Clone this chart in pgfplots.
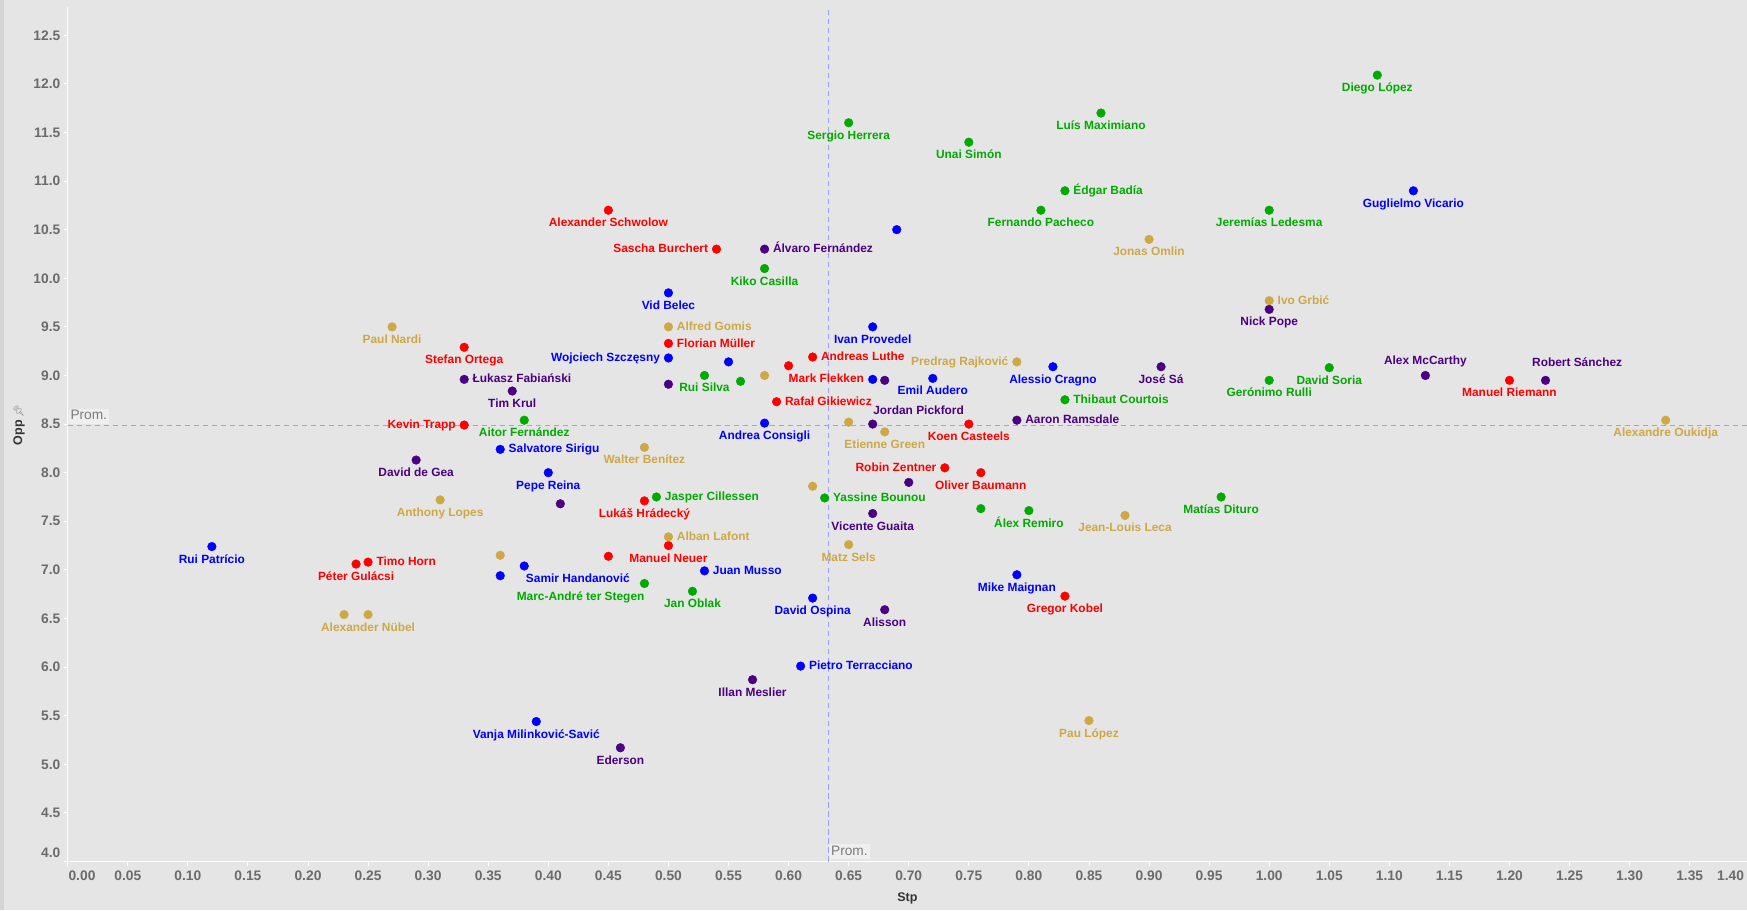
\documentclass[border=0pt]{standalone}
\usepackage{pgfplots}
\pgfplotsset{compat=1.18}
\usepackage{pgfplotstable}
\usepackage{fontspec}
\setmainfont{Liberation Sans}
\newfontfamily\emojifont{Noto Emoji}
\definecolor{bgc}{HTML}{E5E5E5}
\definecolor{stripC}{HTML}{D4D4D4}
\definecolor{gC}{HTML}{00AA00}
\definecolor{rC}{HTML}{FF0000}
\definecolor{bC}{HTML}{0000FF}
\definecolor{pC}{HTML}{4B0082}
\definecolor{yC}{HTML}{CDA844}
\definecolor{tickC}{HTML}{6B6B6B}
\definecolor{titleC}{HTML}{333333}
\definecolor{refC}{HTML}{9E9EFF}
\definecolor{promC}{HTML}{7A7A7A}
\definecolor{promBg}{HTML}{EFEFEF}
\newcommand\lblfont{\fontsize{11.9pt}{13pt}\selectfont\bfseries}
\newcommand\tickfont{\fontsize{13.8pt}{15pt}\selectfont\bfseries}
\newcommand\titlefont{\fontsize{12.5pt}{14pt}\selectfont\bfseries}

% label placement relative to the dot (codes used in the tables)
\newcommand\lpS[1]{\makebox[0pt][c]{\raisebox{-16.5pt}[0pt][0pt]{#1}}}% below
\newcommand\lpE[1]{\makebox[0pt][l]{\hspace{8.5pt}\raisebox{-3.6pt}[0pt][0pt]{#1}}}% right
\newcommand\lpW[1]{\makebox[0pt][r]{\raisebox{-3.6pt}[0pt][0pt]{#1}\hspace{8.5pt}}}% left
\newcommand\lpF[1]{\makebox[0pt][l]{\raisebox{-16.8pt}[0pt][0pt]{#1}}}% below, from dot
\newcommand\lpH[1]{\makebox[0pt][l]{\hspace{1.7pt}\raisebox{-16.2pt}[0pt][0pt]{#1}}}
\newcommand\lpM[1]{\makebox[0pt][r]{\raisebox{-16.6pt}[0pt][0pt]{#1}}}% below, to dot
\newcommand\lpJ[1]{\makebox[0pt][l]{\hspace{0.6pt}\raisebox{9.8pt}[0pt][0pt]{#1}}}% above, from dot
\newcommand\lpA[1]{\makebox[0pt][c]{\raisebox{11.1pt}[0pt][0pt]{#1}}}% above
\newcommand\lpR[1]{\makebox[0pt][c]{\hspace{63.2pt}\raisebox{13.8pt}[0pt][0pt]{#1}}}% above, shifted right
\def\placelabel#1:#2\relax{\csname lp#1\endcsname{#2}}
\newcommand\showlabel{\edef\tmpmeta{\pgfplotspointmeta}\expandafter\placelabel\tmpmeta\relax}

\pgfplotstableread{
x y label
0.65 11.60 {S:Sergio Herrera}
0.86 11.70 {S:Luís Maximiano}
0.75 11.40 {S:Unai Simón}
0.83 10.90 {E:Édgar Badía}
0.81 10.70 {S:Fernando Pacheco}
1.00 10.70 {S:Jeremías Ledesma}
1.09 12.09 {S:Diego López}
0.58 10.10 {S:Kiko Casilla}
0.53 9.00 {S:Rui Silva}
0.56 8.94 {S:}
1.00 8.95 {S:Gerónimo Rulli}
1.05 9.08 {S:David Soria}
0.83 8.75 {E:Thibaut Courtois}
0.38 8.54 {S:Aitor Fernández}
0.49 7.75 {E:Jasper Cillessen}
0.63 7.74 {E:Yassine Bounou}
0.76 7.63 {S:}
0.80 7.61 {S:Álex Remiro}
0.96 7.75 {S:Matías Dituro}
0.48 6.86 {M:Marc-André ter Stegen}
0.52 6.78 {S:Jan Oblak}
}\greendata

\pgfplotstableread{
x y label
0.45 10.70 {S:Alexander Schwolow}
0.54 10.30 {W:Sascha Burchert}
0.33 9.29 {S:Stefan Ortega}
0.50 9.33 {E:Florian Müller}
0.62 9.19 {E:Andreas Luthe}
0.60 9.10 {F:Mark Flekken}
0.59 8.73 {E:Rafał Gikiewicz}
0.33 8.49 {W:Kevin Trapp}
0.75 8.50 {S:Koen Casteels}
0.73 8.05 {W:Robin Zentner}
0.76 8.00 {S:Oliver Baumann}
0.48 7.71 {S:Lukáš Hrádecký}
0.50 7.25 {S:Manuel Neuer}
0.45 7.14 {S:}
0.25 7.08 {E:Timo Horn}
0.24 7.06 {S:Péter Gulácsi}
0.83 6.73 {S:Gregor Kobel}
1.20 8.95 {S:Manuel Riemann}
}\reddata

\pgfplotstableread{
x y label
1.12 10.90 {S:Guglielmo Vicario}
0.69 10.50 {S:}
0.50 9.85 {S:Vid Belec}
0.67 9.50 {S:Ivan Provedel}
0.50 9.18 {W:Wojciech Szczęsny}
0.55 9.14 {S:}
0.67 8.96 {S:}
0.72 8.97 {S:Emil Audero}
0.82 9.09 {S:Alessio Cragno}
0.58 8.51 {S:Andrea Consigli}
0.36 8.24 {E:Salvatore Sirigu}
0.40 8.00 {S:Pepe Reina}
0.12 7.24 {S:Rui Patrício}
0.38 7.04 {H:Samir Handanović}
0.36 6.94 {S:}
0.53 6.99 {E:Juan Musso}
0.62 6.71 {S:David Ospina}
0.79 6.95 {S:Mike Maignan}
0.61 6.01 {E:Pietro Terracciano}
0.39 5.44 {S:Vanja Milinković-Savić}
}\bluedata

\pgfplotstableread{
x y label
0.58 10.30 {E:Álvaro Fernández}
1.00 9.68 {S:Nick Pope}
0.33 8.96 {E:Łukasz Fabiański}
0.37 8.84 {S:Tim Krul}
0.50 8.91 {S:}
0.68 8.95 {S:}
0.67 8.50 {J:Jordan Pickford}
0.91 9.09 {S:José Sá}
1.13 9.00 {A:Alex McCarthy}
1.23 8.95 {R:Robert Sánchez}
0.79 8.54 {E:Aaron Ramsdale}
0.29 8.13 {S:David de Gea}
0.70 7.90 {S:}
0.41 7.68 {S:}
0.67 7.58 {S:Vicente Guaita}
0.68 6.59 {S:Alisson}
0.57 5.87 {S:Illan Meslier}
0.46 5.17 {S:Ederson}
}\purpledata

\pgfplotstableread{
x y label
0.90 10.40 {S:Jonas Omlin}
1.00 9.77 {E:Ivo Grbić}
0.27 9.50 {S:Paul Nardi}
0.50 9.50 {E:Alfred Gomis}
0.58 9.00 {S:}
0.79 9.14 {W:Predrag Rajković}
0.65 8.52 {S:}
0.68 8.42 {S:Etienne Green}
1.33 8.54 {S:Alexandre Oukidja}
0.48 8.26 {S:Walter Benítez}
0.31 7.72 {S:Anthony Lopes}
0.62 7.86 {S:}
0.88 7.56 {S:Jean-Louis Leca}
0.50 7.34 {E:Alban Lafont}
0.65 7.26 {S:Matz Sels}
0.36 7.15 {S:}
0.23 6.54 {S:}
0.25 6.54 {S:Alexander Nübel}
0.85 5.45 {S:Pau López}
}\golddata

\pgfplotsset{
  pts/.style={only marks, mark=*, mark size=4.35pt, color=#1,
    mark options={draw=none, fill=#1},
    point meta=explicit symbolic,
    nodes near coords={\showlabel},
    every node near coord/.style={font=\lblfont, text=#1, inner sep=0pt, anchor=center}},
  refline/.style={color=refC, draw=refC, line width=1.25pt, dash pattern=on 5.5pt off 3.5pt, no marks},
}
\tikzset{
  promnode/.style={fill=promBg, text=promC, font=\fontsize{13.7pt}{15pt}\selectfont,
    inner xsep=2pt, inner ysep=1pt, text height=10pt, text depth=2.8pt},
}

\begin{document}
\begin{tikzpicture}
\path[use as bounding box] (0,0) rectangle (1747pt,910pt);
\fill[bgc] (0,0) rectangle (1747pt,910pt);
\fill[stripC] (0,0) rectangle (4pt,910pt);
\begin{axis}[
  at={(67.7pt,48.5pt)}, anchor=south west,
  scale only axis, width=1679.3pt, height=854.8pt,
  xmin=0, xmax=1.3977, ymin=4, ymax=12.794,
  enlargelimits=false, clip=false,
  axis lines=left,
  axis line style={-, draw=white, line width=0.9pt},
  every outer x axis line/.append style={-, draw=white},
  every outer y axis line/.append style={-, draw=white},
  tick style={draw=white, line width=0.9pt},
  tick align=outside, major tick length=4pt,
  xtick={0,0.05,0.1,0.15,0.2,0.25,0.3,0.35,0.4,0.45,0.5,0.55,0.6,0.65,0.7,0.75,0.8,0.85,0.9,0.95,1,1.05,1.1,1.15,1.2,1.25,1.3,1.35,1.3977},
  xticklabels={{\hspace{28.6pt}0.00},0.05,0.10,0.15,0.20,0.25,0.30,0.35,0.40,0.45,0.50,0.55,0.60,0.65,0.70,0.75,0.80,0.85,0.90,0.95,1.00,1.05,1.10,1.15,1.20,1.25,1.30,1.35,{\makebox[0pt][r]{1.40\kern3pt}}},
  ytick={4.5,5,5.5,6,6.5,7,7.5,8,8.5,9,9.5,10,10.5,11,11.5,12,12.5},
  scaled x ticks=false, scaled y ticks=false,
  /pgf/number format/assume math mode=true,
  tick label style={font=\tickfont, text=tickC},
  xticklabel style={anchor=center, inner sep=0pt, yshift=-10.5pt},
  yticklabel style={anchor=east, inner sep=0pt, xshift=-3.2pt,
    /pgf/number format/.cd, fixed, fixed zerofill, precision=1, /tikz/.cd},
  extra y ticks={4}, extra y tick labels={4.0},
  extra y tick style={tick label style={yshift=8.8pt}},
  xlabel={Stp},
  ylabel={Opp\hspace{3pt}{\emojifont\fontsize{10pt}{10pt}\selectfont\textcolor{promC}{📌}}},
  every axis x label/.style={at={(axis description cs:0.5,-0.04305)}, anchor=center, font=\titlefont, text=titleC},
  every axis y label/.style={at={(axis description cs:-0.029,0.5107)}, rotate=90, anchor=center, font=\titlefont, text=titleC},
]
\addplot[pts=gC] table[x=x,y=y,meta=label] {\greendata};
\addplot[pts=rC] table[x=x,y=y,meta=label] {\reddata};
\addplot[pts=bC] table[x=x,y=y,meta=label] {\bluedata};
\addplot[pts=pC] table[x=x,y=y,meta=label] {\purpledata};
\addplot[pts=yC] table[x=x,y=y,meta=label] {\golddata};
\addplot[refline] coordinates {(0,8.484) (1.3977,8.484)};
\addplot[refline] coordinates {(0.633,4) (0.633,12.794)};
\node[promnode, anchor=south west, xshift=0.6pt, yshift=1.7pt] at (axis cs:0,8.484) {Prom.};
\node[promnode, anchor=south west, xshift=0.7pt, yshift=2.2pt] at (axis cs:0.633,4) {Prom.};
\end{axis}
\end{tikzpicture}
\end{document}
